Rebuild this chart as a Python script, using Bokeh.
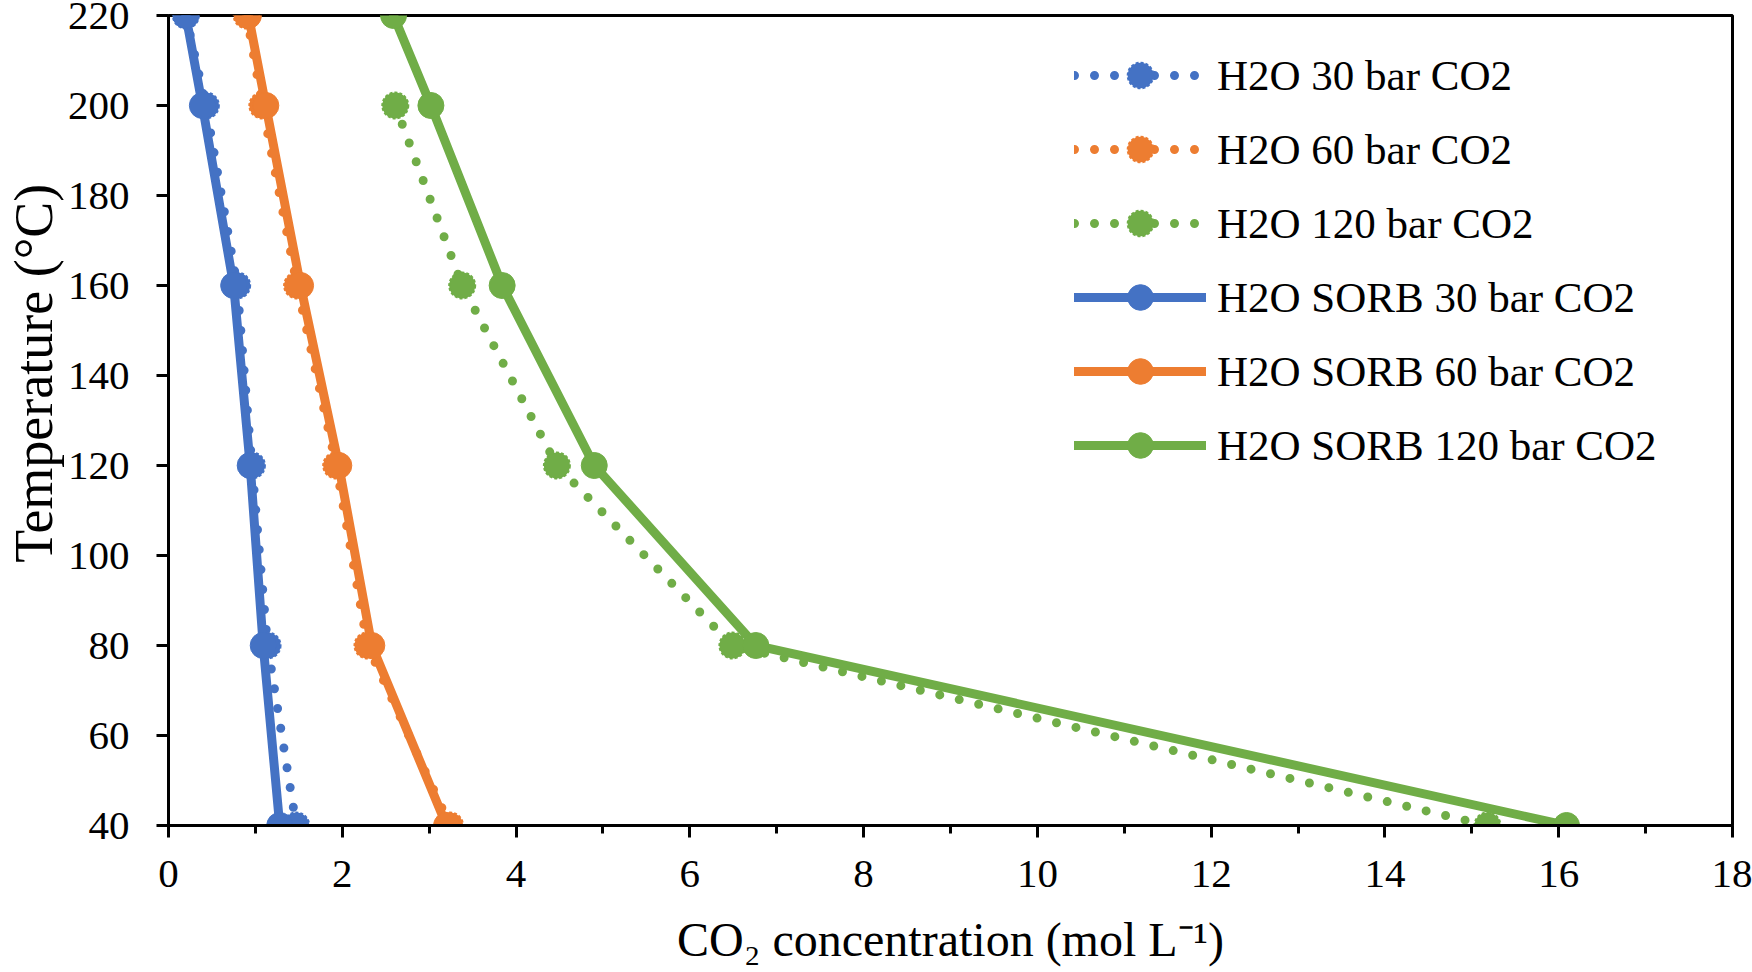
from bokeh.plotting import figure
from bokeh.models import (Range1d, SingleIntervalTicker, Legend, LegendItem,
                          ColumnDataSource)
from bokeh.embed import file_html
from bokeh.resources import INLINE

# ---------------- data ----------------
temperature = [220, 200, 160, 120, 80, 40]          # °C
h2o_30 = [0.20, 0.43, 0.79, 0.96, 1.14, 1.47]       # mol/L
h2o_60 = [0.90, 1.08, 1.48, 1.93, 2.29, 3.24]
h2o_120 = [float("nan"), 2.61, 3.38, 4.47, 6.49, 15.18]
sorb_30 = [0.20, 0.39, 0.75, 0.94, 1.09, 1.28]
sorb_60 = [0.92, 1.12, 1.52, 1.96, 2.34, 3.20]
sorb_120 = [2.59, 3.02, 3.84, 4.90, 6.76, 16.09]

labels = ["H2O 30 bar CO2", "H2O 60 bar CO2", "H2O 120 bar CO2",
          "H2O SORB 30 bar CO2", "H2O SORB 60 bar CO2", "H2O SORB 120 bar CO2"]
x_title = "CO₂ concentration (mol L⁻¹)"
y_title = "Temperature (°C)"

BLUE, ORANGE, GREEN = "#4472C4", "#ED7D31", "#70AD47"
FONT = "Liberation Serif"

p = figure(width=1752, height=972, output_backend="svg", toolbar_location=None,
           x_range=Range1d(0, 18), y_range=Range1d(40, 220),
           min_border_left=168, min_border_right=20,
           min_border_top=15, min_border_bottom=147)
p.background_fill_color = "white"
p.border_fill_color = "white"
p.xgrid.visible = False
p.ygrid.visible = False
p.outline_line_color = "black"
p.outline_line_width = 3

p.xaxis.ticker = SingleIntervalTicker(interval=2, num_minor_ticks=2)
p.yaxis.ticker = SingleIntervalTicker(interval=20, num_minor_ticks=0)
for ax in (p.xaxis, p.yaxis):
    ax.axis_line_width = 3
    ax.axis_line_color = "black"
    ax.major_tick_line_width = 3
    ax.major_tick_line_color = "black"
    ax.major_tick_in = 0
    ax.major_tick_out = 12
    ax.minor_tick_line_width = 3
    ax.minor_tick_line_color = "black"
    ax.minor_tick_in = 0
    ax.minor_tick_out = 8
    ax.major_label_text_font = FONT
    ax.major_label_text_font_size = "41px"
    ax.major_label_text_color = "black"
    ax.major_label_text_line_height = 1.0
    ax.axis_label_text_font = FONT
    ax.axis_label_text_font_style = "normal"
    ax.axis_label_text_color = "black"
    ax.axis_label_text_line_height = 1.0
p.yaxis.minor_tick_line_color = None
p.xaxis.axis_label_text_font_size = "48px"
p.yaxis.axis_label_text_font_size = "54px"
p.yaxis.axis_label_text_line_height = 0.7
p.xaxis.major_label_standoff = 23
p.yaxis.major_label_standoff = 27
p.xaxis.axis_label = x_title
# leading no-break spaces shift the title up, as in the reference
p.yaxis.axis_label = "\u00a0" * 7 + y_title
p.xaxis.axis_label_standoff = 23
p.yaxis.axis_label_standoff = 1

series = [
    (labels[0], h2o_30, BLUE, True),
    (labels[1], h2o_60, ORANGE, True),
    (labels[2], h2o_120, GREEN, True),
    (labels[3], sorb_30, BLUE, False),
    (labels[4], sorb_60, ORANGE, False),
    (labels[5], sorb_120, GREEN, False),
]

items = []
for name, xs, color, dotted in series:
    src = ColumnDataSource(dict(x=xs, y=temperature))
    if dotted:
        ln = p.line("x", "y", source=src, line_color=color, line_width=9,
                    line_dash="0 20", line_cap="round", line_join="round")
        sc = p.scatter("x", "y", source=src, size=26, fill_color=color,
                       line_color=color, line_width=2, line_dash="3 2")
    else:
        ln = p.line("x", "y", source=src, line_color=color, line_width=9,
                    line_cap="round", line_join="round")
        sc = p.scatter("x", "y", source=src, size=26, fill_color=color,
                       line_color=color, line_width=1)
    items.append(LegendItem(label=name, renderers=[ln, sc]))

legend = Legend(items=items, location=(906, 348),
                label_text_font=FONT, label_text_font_size="43px",
                label_text_color="black",
                glyph_width=132, glyph_height=64, label_height=64,
                label_standoff=11, spacing=10, padding=0, margin=0,
                border_line_color=None, background_fill_alpha=0)
p.add_layout(legend)

open("out.html", "w").write(file_html(p, INLINE))
